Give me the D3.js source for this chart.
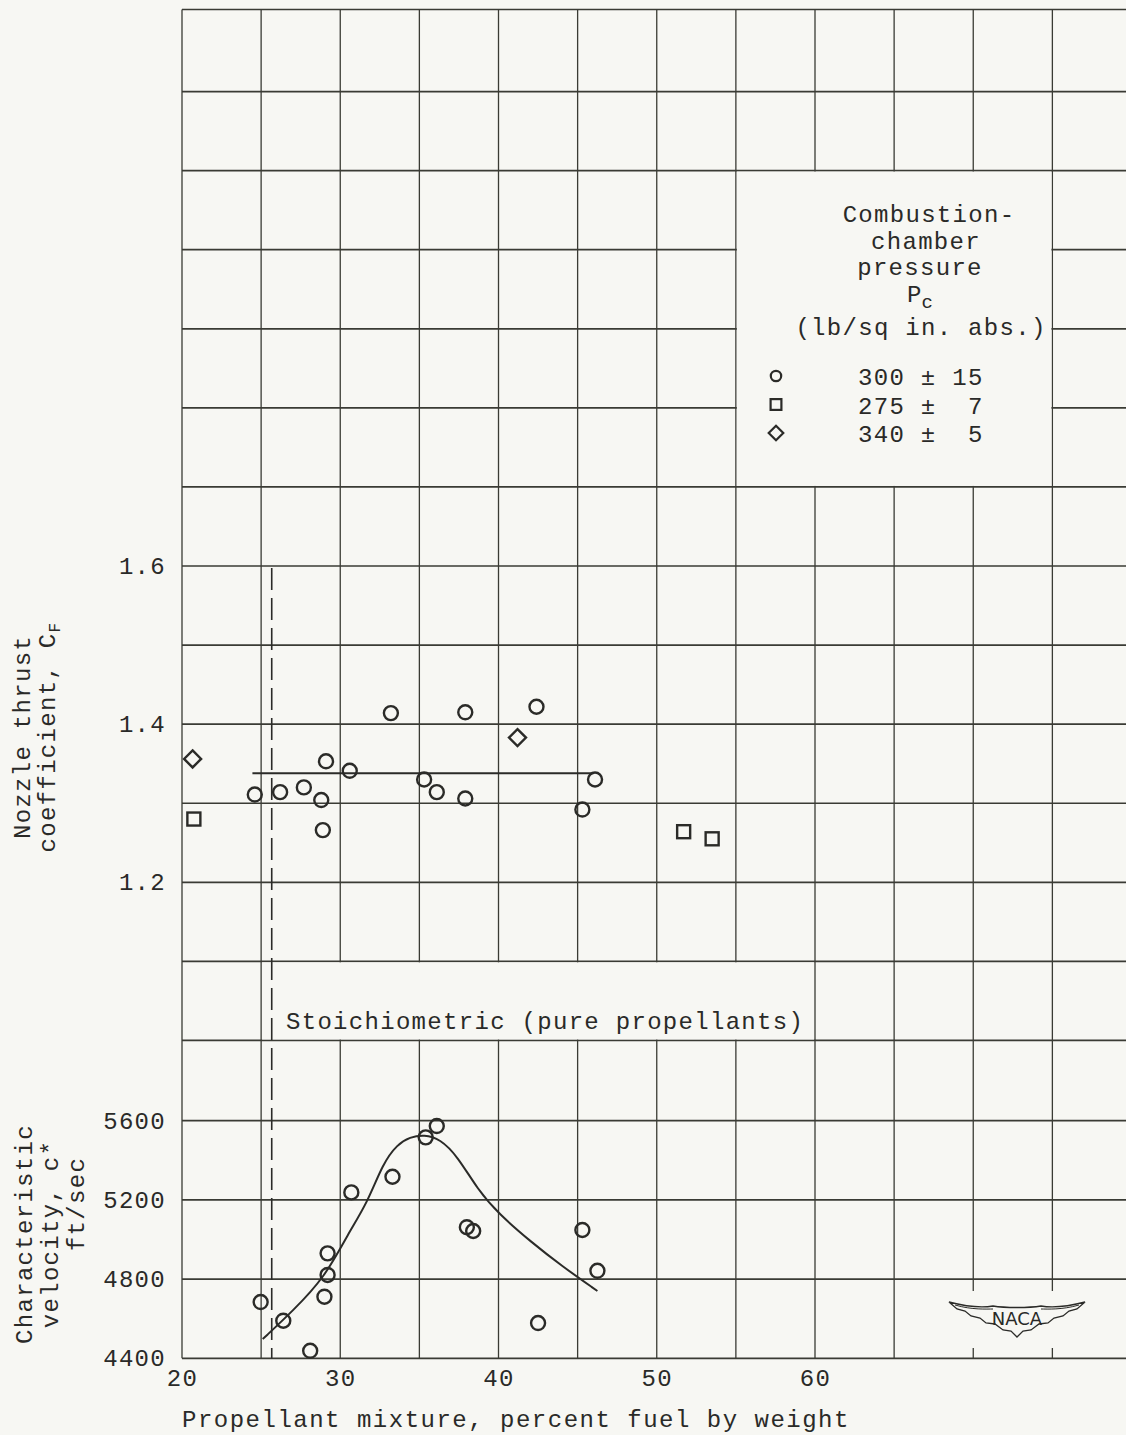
<!DOCTYPE html>
<html>
<head>
<meta charset="utf-8">
<script src="https://cdn.jsdelivr.net/npm/d3@7/dist/d3.min.js"></script>
<style>
    body { margin: 0; background: #f7f7f3; }
    svg text { font-family: "Liberation Mono", "DejaVu Sans Mono", monospace; fill: #2a2a28; }
</style>
</head>
<body>
<div id="chart"></div>
<script>
// Nozzle thrust coefficient, C_F
var cfCircleX = [24.6, 26.2, 27.7, 28.8, 28.9, 29.1, 30.6, 33.2, 35.3, 36.1, 37.9, 37.9, 42.4, 45.3, 46.1],
    cfCircleY = [1.311, 1.314, 1.320, 1.304, 1.266, 1.353, 1.341, 1.414, 1.330, 1.314, 1.415, 1.306, 1.422, 1.292, 1.330],
    cfSquareX = [20.75, 51.7, 53.5],
    cfSquareY = [1.280, 1.264, 1.255],
    cfDiamondX = [20.67, 41.2],
    cfDiamondY = [1.356, 1.383],
    cfFairX = [24.45, 46.0],
    cfFairY = [1.338, 1.338];

// Characteristic velocity, c*
var cStarX = [24.97, 26.4, 28.1, 29.0, 29.2, 29.2, 30.7, 33.3, 35.4, 36.1, 38.0, 38.4, 42.5, 45.3, 46.25],
    cStarY = [4684, 4590, 4438, 4711, 4821, 4930, 5238, 5317, 5516, 5573, 5062, 5043, 4578, 5048, 4842],
    cCurveX = [25.1, 27.0, 29.0, 30.5, 31.7, 32.7, 33.6, 34.4, 35.3, 36.3, 37.4, 38.7, 40.0, 42.1, 44.0, 46.25],
    cCurveY = [4497, 4639, 4806, 5030, 5183, 5385, 5480, 5517, 5530, 5508, 5422, 5250, 5130, 4985, 4866, 4740];

var stoichX = 25.67;

var xTicks = [20, 30, 40, 50, 60],
    cfTicks = [1.2, 1.4, 1.6],
    cTicks = [4400, 4800, 5200, 5600];

var legendRows = [
        { shape: 'circle', label: '300 \u00b1 15' },
        { shape: 'square', label: '275 \u00b1  7' },
        { shape: 'diamond', label: '340 \u00b1  5' }
    ];

var W = 1126, H = 1435,
    bg = '#f7f7f3',
    ink = '#2b2b28',
    fs = 24,
    ls = 1.3;

var svg = d3.select( '#chart' )
    .append( 'svg' )
    .attr( 'width', W )
    .attr( 'height', H );

svg.append( 'rect' ).attr( 'width', W ).attr( 'height', H ).attr( 'fill', bg );

var x = d3.scaleLinear().domain( [ 20, 60 ] ).range( [ 182, 815 ] ),
    yCF = d3.scaleLinear().domain( [ 1.2, 1.6 ] ).range( [ 882.3, 566 ] ),
    yC = d3.scaleLinear().domain( [ 4400, 5600 ] ).range( [ 1358.3, 1120.7 ] );

var gridTop = yCF( 2.3 ) - 3,
    gridBottom = yC( 4400 );

//////////////////////////////////////////
// Grid

var grid = svg.append( 'g' ).attr( 'stroke', '#3a3b34' ).attr( 'fill', 'none' );

d3.range( 20, 80, 5 ).forEach( function( v ){
    grid.append( 'line' )
        .attr( 'x1', x( v ) ).attr( 'x2', x( v ) )
        .attr( 'y1', gridTop ).attr( 'y2', gridBottom )
        .attr( 'stroke-width', 1.3 );
} );

var hLines = d3.range( 10, 23 ).map( function( d ){ return yCF( d / 10 ); } )
    .concat( [ gridTop ] )
    .concat( [ 4400, 4800, 5200, 5600 ].map( yC ) );

hLines.forEach( function( y ){
    grid.append( 'line' )
        .attr( 'x1', x( 20 ) ).attr( 'x2', W )
        .attr( 'y1', y ).attr( 'y2', y )
        .attr( 'stroke-width', 1.7 );
} );

// blank boxes on the grid paper (legend, stoichiometric label, logo)
svg.append( 'rect' )
    .attr( 'x', x( 55 ) + 1 ).attr( 'y', yCF( 2.1 ) + 1 )
    .attr( 'width', x( 75 ) - x( 55 ) - 2 ).attr( 'height', yCF( 1.7 ) - yCF( 2.1 ) - 2 )
    .attr( 'fill', bg );

svg.append( 'rect' )
    .attr( 'x', x( 25 ) + 1 ).attr( 'y', yCF( 1.1 ) + 1 )
    .attr( 'width', x( 60 ) - x( 25 ) - 2 ).attr( 'height', yCF( 1.0 ) - yCF( 1.1 ) - 2 )
    .attr( 'fill', bg );

svg.append( 'rect' )
    .attr( 'x', 945 ).attr( 'y', 1291 )
    .attr( 'width', 150 ).attr( 'height', 57 )
    .attr( 'fill', bg );

//////////////////////////////////////////
// Axes

function styleAxis( g ){
    g.select( '.domain' ).remove();
    g.selectAll( 'text' )
        .attr( 'font-size', fs )
        .attr( 'letter-spacing', ls )
        .attr( 'fill', ink )
        .style( 'font-family', '"Liberation Mono", monospace' );
}

svg.append( 'g' )
    .attr( 'transform', 'translate(' + x( 20 ) + ',0)' )
    .call( d3.axisLeft( yCF ).tickValues( cfTicks ).tickSize( 0 ).tickPadding( 16 ).tickFormat( d3.format( '.1f' ) ) )
    .call( styleAxis );

svg.append( 'g' )
    .attr( 'transform', 'translate(' + x( 20 ) + ',0)' )
    .call( d3.axisLeft( yC ).tickValues( cTicks ).tickSize( 0 ).tickPadding( 16 ).tickFormat( d3.format( 'd' ) ) )
    .call( styleAxis );

svg.append( 'g' )
    .attr( 'transform', 'translate(0,' + gridBottom + ')' )
    .call( d3.axisBottom( x ).tickValues( xTicks ).tickSize( 0 ).tickPadding( 11 ).tickFormat( d3.format( 'd' ) ) )
    .call( styleAxis );

svg.append( 'text' )
    .attr( 'x', 182 ).attr( 'y', 1427 )
    .attr( 'font-size', fs ).attr( 'letter-spacing', ls + 0.2 )
    .text( 'Propellant mixture, percent fuel by weight' );

// y titles
function yTitle( cx, cy, lines ){
    var g = svg.append( 'g' ).attr( 'transform', 'translate(' + cx + ',' + cy + ') rotate(-90)' );
    lines.forEach( function( l ){
        var t = g.append( 'text' )
            .attr( 'x', l.dx || 0 ).attr( 'y', l.y )
            .attr( 'text-anchor', 'middle' )
            .attr( 'font-size', fs )
            .attr( 'letter-spacing', ls );
        t.append( 'tspan' ).text( l.text );
        if ( l.sub ) {
            t.append( 'tspan' ).attr( 'font-size', 16 ).attr( 'dy', 5 ).text( l.sub );
        }
    } );
}

yTitle( 0, 737, [
    { text: 'Nozzle thrust', y: 30 },
    { text: 'coefficient, C', sub: 'F', y: 55 }
] );

yTitle( 0, 1234, [
    { text: 'Characteristic', y: 32 },
    { text: 'velocity, c*', y: 58 },
    { text: 'ft/sec', y: 84, dx: 30 }
] );

//////////////////////////////////////////
// Stoichiometric line

svg.append( 'line' )
    .attr( 'x1', x( stoichX ) ).attr( 'x2', x( stoichX ) )
    .attr( 'y1', yCF( 1.6 ) + 2 ).attr( 'y2', gridBottom )
    .attr( 'stroke', ink ).attr( 'stroke-width', 1.6 )
    .attr( 'stroke-dasharray', '22,8' );

svg.append( 'text' )
    .attr( 'x', 286 ).attr( 'y', 1029 )
    .attr( 'font-size', fs ).attr( 'letter-spacing', ls )
    .text( 'Stoichiometric (pure propellants)' );

//////////////////////////////////////////
// Marks

var marks = svg.append( 'g' ).attr( 'fill', 'none' ).attr( 'stroke', ink ).attr( 'stroke-width', 2.4 );

function drawShape( g, shape, px, py, s ){
    if ( shape === 'circle' ) {
        g.append( 'circle' ).attr( 'cx', px ).attr( 'cy', py ).attr( 'r', s );
    } else if ( shape === 'square' ) {
        g.append( 'rect' ).attr( 'x', px - s ).attr( 'y', py - s ).attr( 'width', 2 * s ).attr( 'height', 2 * s );
    } else {
        var d = s * 1.35;
        g.append( 'path' ).attr( 'd', 'M' + px + ',' + ( py - d ) + 'L' + ( px + d ) + ',' + py +
            'L' + px + ',' + ( py + d ) + 'L' + ( px - d ) + ',' + py + 'Z' );
    }
}

cfCircleX.forEach( function( v, i ){ drawShape( marks, 'circle', x( v ), yCF( cfCircleY[ i ] ), 7 ); } );
cfSquareX.forEach( function( v, i ){ drawShape( marks, 'square', x( v ), yCF( cfSquareY[ i ] ), 6.5 ); } );
cfDiamondX.forEach( function( v, i ){ drawShape( marks, 'diamond', x( v ), yCF( cfDiamondY[ i ] ), 6.3 ); } );
cStarX.forEach( function( v, i ){ drawShape( marks, 'circle', x( v ), yC( cStarY[ i ] ), 7 ); } );

marks.append( 'path' )
    .datum( cfFairX.map( function( v, i ){ return [ v, cfFairY[ i ] ]; } ) )
    .attr( 'd', d3.line().x( function( d ){ return x( d[ 0 ] ); } ).y( function( d ){ return yCF( d[ 1 ] ); } ) )
    .attr( 'stroke-width', 2 );

marks.append( 'path' )
    .datum( cCurveX.map( function( v, i ){ return [ v, cCurveY[ i ] ]; } ) )
    .attr( 'd', d3.line()
        .x( function( d ){ return x( d[ 0 ] ); } )
        .y( function( d ){ return yC( d[ 1 ] ); } )
        .curve( d3.curveBasis ) )
    .attr( 'stroke-width', 2 );

//////////////////////////////////////////
// Legend

var legend = svg.append( 'g' );

[
    [ 'Combustion-', 929, 222 ],
    [ 'chamber', 926, 249 ],
    [ 'pressure', 920, 275 ],
    [ '(lb/sq in. abs.)', 921, 335 ]
].forEach( function( r ){
    legend.append( 'text' )
        .attr( 'x', r[ 1 ] ).attr( 'y', r[ 2 ] )
        .attr( 'text-anchor', 'middle' )
        .attr( 'font-size', fs ).attr( 'letter-spacing', ls )
        .text( r[ 0 ] );
} );

var pc = legend.append( 'text' ).attr( 'x', 907 ).attr( 'y', 302 ).attr( 'font-size', fs );
pc.append( 'tspan' ).text( 'P' );
pc.append( 'tspan' ).attr( 'font-size', 19 ).attr( 'dy', 6 ).text( 'c' );

var legendMarks = legend.append( 'g' ).attr( 'fill', 'none' ).attr( 'stroke', ink ).attr( 'stroke-width', 2.2 );

legendRows.forEach( function( r, i ){
    var ly = 376 + i * 28.5;
    drawShape( legendMarks, r.shape, 776, ly, r.shape === 'circle' ? 5.2 : 5.4 );
    legend.append( 'text' )
        .attr( 'x', 858 ).attr( 'y', ly + 9 )
        .attr( 'font-size', fs ).attr( 'letter-spacing', ls )
        .attr( 'xml:space', 'preserve' )
        .style( 'white-space', 'pre' )
        .text( r.label );
} );

//////////////////////////////////////////
// NACA logo

var logo = svg.append( 'g' ).attr( 'transform', 'translate(1017,1318)' );

logo.append( 'path' )
    .attr( 'd', 'M-68,-16 C-45,-10 -30,-11 -24,-12 C-12,-10 12,-10 24,-12 C30,-11 45,-10 68,-16 ' +
        'L60,-9 L52,-7 L46,-2 L37,0 L31,5 L22,6 L14,12 L6,13 L0,19 L-6,13 L-14,12 L-22,6 L-31,5 L-37,0 L-46,-2 L-52,-7 L-60,-9 Z' )
    .attr( 'fill', 'none' ).attr( 'stroke', ink ).attr( 'stroke-width', 1.3 );

logo.append( 'path' )
    .attr( 'd', 'M-62,-13 C-45,-8 -30,-9 -24,-9 M24,-9 C30,-9 45,-8 62,-13' )
    .attr( 'fill', 'none' ).attr( 'stroke', ink ).attr( 'stroke-width', 1 );

logo.append( 'text' )
    .attr( 'x', 0 ).attr( 'y', 7 )
    .attr( 'text-anchor', 'middle' )
    .attr( 'font-size', 18 )
    .style( 'font-family', '"DejaVu Sans", sans-serif' )
    .text( 'NACA' );
</script>
</body>
</html>
